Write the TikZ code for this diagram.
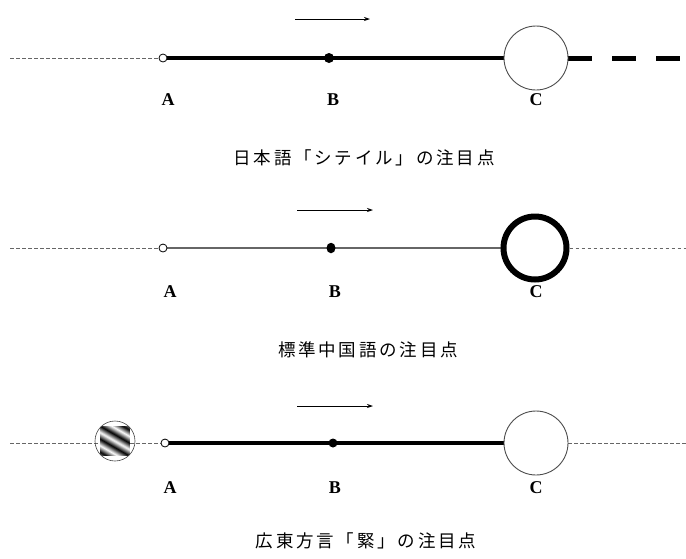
\documentclass[tikz,border=0pt]{standalone}
\usepackage{fontspec}
\setmainfont{Liberation Serif}
\newfontfamily\jpfont[LetterSpace=16]{Noto Sans CJK JP}
\usetikzlibrary{arrows.meta,backgrounds,shapes.geometric}
\pgfdeclarehorizontalshading{stripes}{100bp}{color(0bp)=(black); color(10bp)=(white); color(20bp)=(black); color(30bp)=(white); color(40bp)=(black); color(50bp)=(white); color(60bp)=(black); color(70bp)=(white); color(80bp)=(black); color(90bp)=(white); color(100bp)=(black)}
\begin{document}
\begin{tikzpicture}[x=1pt,y=-1pt,
  dline/.style={draw=gray!80!black, line width=0.9pt, dash pattern=on 3.5pt off 2.5pt},
  thickline/.style={line width=4pt},
  thinline/.style={draw=gray!80!black, line width=1.2pt},
  bigdash/.style={line width=5pt, dash pattern=on 24pt off 20pt},
  apt/.style={circle, draw, fill=white, inner sep=0pt, minimum size=8pt, line width=0.8pt},
  bpt/.style={circle, fill=black, inner sep=0pt, minimum size=10pt},
  cpt/.style={circle, draw=gray!60!black, fill=white, inner sep=0pt, minimum size=64pt, line width=0.9pt},
  cbold/.style={circle, draw=black, fill=white, inner sep=0pt, minimum size=63pt, line width=6pt},
  lbl/.style={font=\fontsize{18}{18}\selectfont\bfseries},
  captxt/.style={font=\fontsize{17.5}{18}\selectfont\jpfont},
  dirarrow/.style={-{Stealth[length=6pt,width=4pt]}, line width=0.8pt}
]
\useasboundingbox (0,0) rectangle (686,558);

% ---------- Row 1 ----------
\coordinate (L1) at (10,58);
\coordinate (R1) at (686,58);
\node[apt] (A1) at (163,58) {};
\node[bpt] (B1) at (329,58) {};
\node[cpt] (C1) at (536,58) {};
\coordinate (P1) at (295,19);
\coordinate (Q1) at (370,19);
\node[lbl] (la1) at (168,100) {A};
\node[lbl] (lb1) at (333,100) {B};
\node[lbl] (lc1) at (536,100) {C};
\node[captxt] (t1) at (364,158) {日本語「シテイル」の注目点};
\draw[dirarrow] (P1) -- (Q1);

% ---------- Row 2 ----------
\coordinate (L2) at (10,248);
\coordinate (R2) at (686,248);
\node[apt] (A2) at (163,248) {};
\node[ellipse, fill=black, inner sep=0pt, minimum width=9pt, minimum height=10.5pt] (B2) at (331,248) {};
\node[cbold] (C2) at (535,248) {};
\coordinate (P2) at (297,210);
\coordinate (Q2) at (373,210);
\node[lbl] (la2) at (170,292) {A};
\node[lbl] (lb2) at (335,292) {B};
\node[lbl] (lc2) at (536,292) {C};
\node[captxt] (t2) at (368,350) {標準中国語の注目点};
\draw[dirarrow] (P2) -- (Q2);

% ---------- Row 3 ----------
\coordinate (L3) at (10,443);
\coordinate (R3) at (686,443);
\node[apt] (A3) at (165,443) {};
\node[bpt, minimum size=9pt] (B3) at (333,443) {};
\node[cpt] (C3) at (536,443) {};
\coordinate (P3) at (297,406);
\coordinate (Q3) at (373,406);
\node[lbl] (la3) at (170,488) {A};
\node[lbl] (lb3) at (335,488) {B};
\node[lbl] (lc3) at (536,488) {C};
\node[captxt] (t3) at (366,541) {広東方言「緊」の注目点};
\draw[dirarrow] (P3) -- (Q3);
\node[circle, inner sep=0pt, minimum size=40pt] (S3) at (115,441) {};
\begin{scope}
  \clip (S3.center) circle (20pt);
  \shade[shading=stripes, shading angle=60] (S3.south west) rectangle (S3.north east);
\end{scope}
\draw[gray!50!black, line width=0.6pt] (S3.center) circle (20pt);

\begin{pgfonlayer}{background}
  \draw[dline] (L1) -- (A1);
  \draw[thickline] (A1) -- (C1);
  \draw[bigdash] (C1.east) -- (R1);
  \draw[dline] (L2) -- (A2);
  \draw[thinline] (A2) -- (C2);
  \draw[dline] (C2) -- (R2);
  \draw[dline] (L3) -- (A3);
  \draw[thickline] (A3) -- (C3);
  \draw[dline] (C3) -- (R3);
\end{pgfonlayer}
\end{tikzpicture}
\end{document}
